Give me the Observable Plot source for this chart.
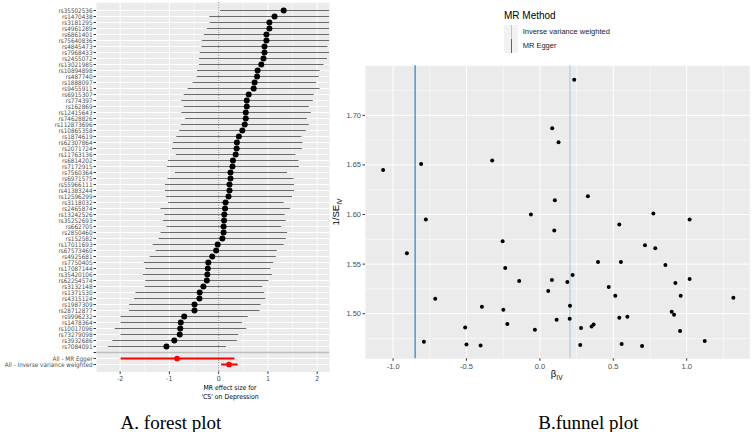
<!DOCTYPE html>
<html><head><meta charset="utf-8">
<script src="https://cdn.jsdelivr.net/npm/d3@7"></script>
<script src="https://cdn.jsdelivr.net/npm/@observablehq/plot@0.6"></script>
<style>
body{margin:0;background:#fff;}
#wrap{position:relative;width:753px;height:432px;overflow:hidden;font-family:"Liberation Sans",Arial,sans-serif;background:#fff;}
.t{position:absolute;white-space:nowrap;line-height:1;}
.narrow{font-family:"Liberation Sans Narrow","DejaVu Sans Condensed","Arial Narrow",sans-serif;}
.serif{font-family:"Liberation Serif","Times New Roman",serif;}
.key{position:absolute;background:#f2f2f2;}
.keyline{position:absolute;width:1px;}
</style></head><body><div id="wrap"></div>
<script>
// ---------- Forest plot data ----------
const snps = ["rs35502536","rs1470438","rs3181295","rs4961289","rs6861401","rs75640836","rs4845473","rs7968433","rs2455072","rs13021985",
"rs10894898","rs487740","rs1888097","rs9455911","rs6915307","rs774397","rs162869","rs12415643","rs74628826","rs112873696",
"rs10865358","rs1874619","rs62307864","rs2071724","rs11763136","rs6814202","rs7172915","rs7560364","rs6971575","rs55966111",
"rs41383244","rs12596299","rs3118032","rs2465874","rs13242526","rs35252693","rs662705","rs2850460","rs152582","rs17011693",
"rs67573460","rs4925681","rs7750405","rs17087144","rs35420106","rs62254574","rs3132148","rs1371530","rs4315124","rs1987309",
"rs28712877","rs9996232","rs1478364","rs10017096","rs73279098","rs3932686","rs7084091"];
const snpEst = [1.32,1.135,1.03,1.03,0.97,0.97,0.93,0.93,0.91,0.865,
0.79,0.78,0.73,0.71,0.61,0.57,0.57,0.55,0.55,0.53,
0.48,0.41,0.37,0.365,0.345,0.29,0.28,0.24,0.24,0.22,
0.22,0.20,0.14,0.13,0.115,0.11,0.10,0.10,0.075,-0.02,
-0.05,-0.13,-0.21,-0.22,-0.23,-0.24,-0.31,-0.385,-0.39,-0.49,
-0.49,-0.70,-0.77,-0.78,-0.79,-0.90,-1.06];
const snpLo = [0.03,-0.19,-0.18,-0.24,-0.30,-0.34,-0.35,-0.385,-0.40,-0.40,
-0.44,-0.45,-0.53,-0.63,-0.71,-0.76,-0.71,-0.76,-0.68,-0.77,
-0.80,-0.86,-0.93,-0.95,-0.87,-1.03,-1.05,-0.89,-1.04,-1.09,
-1.09,-1.07,-1.03,-1.18,-1.10,-1.13,-1.06,-1.18,-1.22,-1.34,
-1.28,-1.40,-1.52,-1.49,-1.54,-1.49,-1.50,-1.69,-1.72,-1.82,
-1.82,-1.99,-1.99,-2.11,-1.99,-2.16,-2.25];
const snpHi = [2.62,2.46,2.24,2.30,2.24,2.28,2.21,2.245,2.2,2.13,
2.05,2.03,1.98,2.05,1.93,1.91,1.83,1.87,1.79,1.83,
1.77,1.68,1.70,1.69,1.56,1.62,1.63,1.39,1.52,1.53,
1.53,1.49,1.32,1.45,1.34,1.36,1.27,1.39,1.36,1.32,
1.18,1.16,1.11,1.05,1.08,1.01,0.885,0.925,0.95,0.85,
0.83,0.59,0.47,0.56,0.40,0.37,0.15];
const allLabels = ["All - MR Egger","All - Inverse variance weighted"];
const allEst = [-0.845, 0.21];
const allLo = [-1.99, 0.05];
const allHi = [0.32, 0.385];
const separatorRow = [""];
const nullEffect = [0];
const forestTicks = [-2,-1,0,1,2];
const forestMinor = [-1.5,-0.5,0.5,1.5];

// ---------- Funnel plot data ----------
const funnelBeta = [0.234,0.084,0.127,-0.325,-1.068,-0.809,-0.777,-0.906,-0.713,-0.061,
0.102,0.327,0.098,-0.254,-0.236,-0.141,0.082,0.057,0.187,0.223,
0.396,0.541,0.552,0.773,0.716,0.786,1.020,0.855,1.020,0.923,
0.469,0.514,0.959,1.318,-0.395,-0.249,0.205,0.203,0.114,0.541,
0.596,0.898,0.914,-0.509,-0.222,-0.034,0.280,0.352,0.366,0.955,
-0.790,-0.500,-0.404,0.275,0.557,0.696,1.123];
const funnelInvSE = [1.736,1.687,1.673,1.6545,1.645,1.651,1.595,1.561,1.515,1.600,
1.6145,1.6185,1.584,1.573,1.546,1.533,1.534,1.523,1.532,1.539,
1.552,1.590,1.552,1.601,1.569,1.566,1.595,1.549,1.535,1.531,
1.527,1.518,1.518,1.516,1.507,1.504,1.508,1.495,1.494,1.496,
1.497,1.502,1.499,1.486,1.4896,1.4838,1.4855,1.487,1.489,1.4825,
1.4717,1.469,1.468,1.4684,1.4694,1.4673,1.4724];
const methods = ["Inverse variance weighted","MR Egger"];
const methodBeta = [0.205,-0.85];
const methodColors = ["#a6cee3","#1f78b4"];
const funnelXTicks = [-1,-0.5,0,0.5,1];
const funnelXMinor = [-0.75,-0.25,0.25,0.75,1.25];
const funnelYTicks = [1.5,1.55,1.6,1.65,1.7];
const funnelYMinor = [1.475,1.525,1.575,1.625,1.675,1.725];

// ---------- Build ----------
const wrap = document.getElementById("wrap");
const narrowFont = '"Liberation Sans Narrow","DejaVu Sans Condensed","Arial Narrow",sans-serif';
const sansFont = '"Liberation Sans",Arial,sans-serif';

const rows = snps.map((s,i)=>({label:s, est:snpEst[i], lo:snpLo[i], hi:snpHi[i], all:false}))
  .concat(allLabels.map((s,i)=>({label:s, est:allEst[i], lo:allLo[i], hi:allHi[i], all:true})));
const yDomain = [...snps, ...separatorRow, ...allLabels];

const forest = Plot.plot({
  width:330, height:402, marginLeft:96, marginRight:1, marginTop:2.3, marginBottom:30.6,
  x:{domain:[-2.48,2.25]},
  y:{type:"point", domain:yDomain, padding:0.6},
  style:{background:"transparent", overflow:"visible", fontFamily:narrowFont},
  marks:[
    Plot.frame({fill:"#ebebeb", stroke:null}),
    Plot.gridX(forestMinor,{stroke:"#fff", strokeOpacity:1, strokeWidth:0.5}),
    Plot.gridX(forestTicks,{stroke:"#fff", strokeOpacity:1, strokeWidth:1}),
    Plot.gridY(yDomain,{stroke:"#fff", strokeOpacity:1, strokeWidth:1}),
    Plot.ruleY(separatorRow,{stroke:"#bebebe", strokeWidth:1.6}),
    Plot.ruleX(nullEffect,{stroke:"#7a7a7a", strokeDasharray:"1,1.5", strokeWidth:1}),
    Plot.link(rows,{x1:"lo", x2:"hi", y1:"label", y2:"label",
      stroke:d=>d.all?"#ff0000":"#5a5a5a", strokeWidth:d=>d.all?2:0.9, clip:true}),
    Plot.dot(rows,{x:"est", y:"label", fill:d=>d.all?"#ff0000":"#000000", r:d=>d.all?1.8:2, clip:true}),
    Plot.axisX(forestTicks,{tickSize:2.5, tickPadding:1.5, fontSize:7, stroke:"#333", fill:"#4d4d4d", label:null, tickFormat:d=>String(d), fontFamily:narrowFont}),
    Plot.axisY({tickSize:2.5, tickPadding:1.5, fontSize:6.3, stroke:"#333", fill:"#4d4d4d", label:null, fontFamily:narrowFont})
  ]
});
forest.style.position="absolute"; forest.style.left="0px"; forest.style.top="0px";
wrap.appendChild(forest);

const funnelData = funnelBeta.map((b,i)=>({b, w:funnelInvSE[i]}));
const methodData = methods.map((m,i)=>({m, b:methodBeta[i]}));
const funnel = Plot.plot({
  width:423, height:390, marginLeft:35, marginRight:3.7, marginTop:65.3, marginBottom:31.7,
  x:{domain:[-1.188,1.43]},
  y:{domain:[1.4545,1.750]},
  color:{domain:methods, range:methodColors},
  style:{background:"transparent", overflow:"visible", fontFamily:sansFont},
  marks:[
    Plot.frame({fill:"#ebebeb", stroke:null}),
    Plot.gridX(funnelXMinor,{stroke:"#fff", strokeOpacity:1, strokeWidth:0.5}),
    Plot.gridY(funnelYMinor,{stroke:"#fff", strokeOpacity:1, strokeWidth:0.5}),
    Plot.gridX(funnelXTicks,{stroke:"#fff", strokeOpacity:1, strokeWidth:1}),
    Plot.gridY(funnelYTicks,{stroke:"#fff", strokeOpacity:1, strokeWidth:1}),
    Plot.ruleX(methodData,{x:"b", stroke:"m", strokeWidth:1.1}),
    Plot.dot(funnelData,{x:"b", y:"w", fill:"#000", r:2}),
    Plot.axisX(funnelXTicks,{tickSize:2.5, tickPadding:2, fontSize:7.5, stroke:"#333", fill:"#4d4d4d", label:null, tickFormat:d=>d.toFixed(1)}),
    Plot.axisY(funnelYTicks,{tickSize:2.5, tickPadding:2, fontSize:7.5, stroke:"#333", fill:"#4d4d4d", label:null, tickFormat:d=>d.toFixed(2)})
  ]
});
funnel.style.position="absolute"; funnel.style.left="330px"; funnel.style.top="0px";
wrap.appendChild(funnel);

// ---------- Titles, captions, legend ----------
function txt(html, x, y, size, opts={}){
  const d = document.createElement("div");
  d.className = "t " + (opts.cls||"");
  d.innerHTML = html;
  d.style.fontSize = size+"px";
  d.style.color = opts.color||"#000";
  d.style.left = x+"px"; d.style.top = y+"px";
  const ax = opts.anchor==="start" ? "0" : "-50%";
  d.style.transform = `translate(${ax},-50%)` + (opts.rotate?` rotate(${opts.rotate}deg)`:"");
  wrap.appendChild(d);
  return d;
}
txt("MR effect size for", 230, 388, 6.8, {cls:"narrow"});
txt("'CS' on Depression", 230, 397, 6.8, {cls:"narrow"});
txt("A. forest plot", 171, 421.9, 19, {cls:"serif"});
txt("B.funnel plot", 588.5, 421.9, 19, {cls:"serif"});
txt("β<sub style='font-size:0.7em'>IV</sub>", 556.7, 375, 9.5);
txt("1/SE<sub style='font-size:0.7em'>IV</sub>", 337, 212, 9.5, {rotate:-90});

// legend
txt("MR Method", 504, 15.7, 10, {anchor:"start"});
methods.forEach((m,i)=>{
  const k = document.createElement("div");
  k.className="key";
  k.style.left="504px"; k.style.top=(24.5+i*14)+"px"; k.style.width="14px"; k.style.height="14px";
  const l = document.createElement("div");
  l.className="keyline"; l.style.left="6.5px"; l.style.top="0px"; l.style.height="14px";
  l.style.background=methodColors[i];
  k.appendChild(l); wrap.appendChild(k);
  txt(m, 522.7, 31.7+i*14, 7.5, {anchor:"start", color:"#1a1a1a"});
});
</script></body></html>
